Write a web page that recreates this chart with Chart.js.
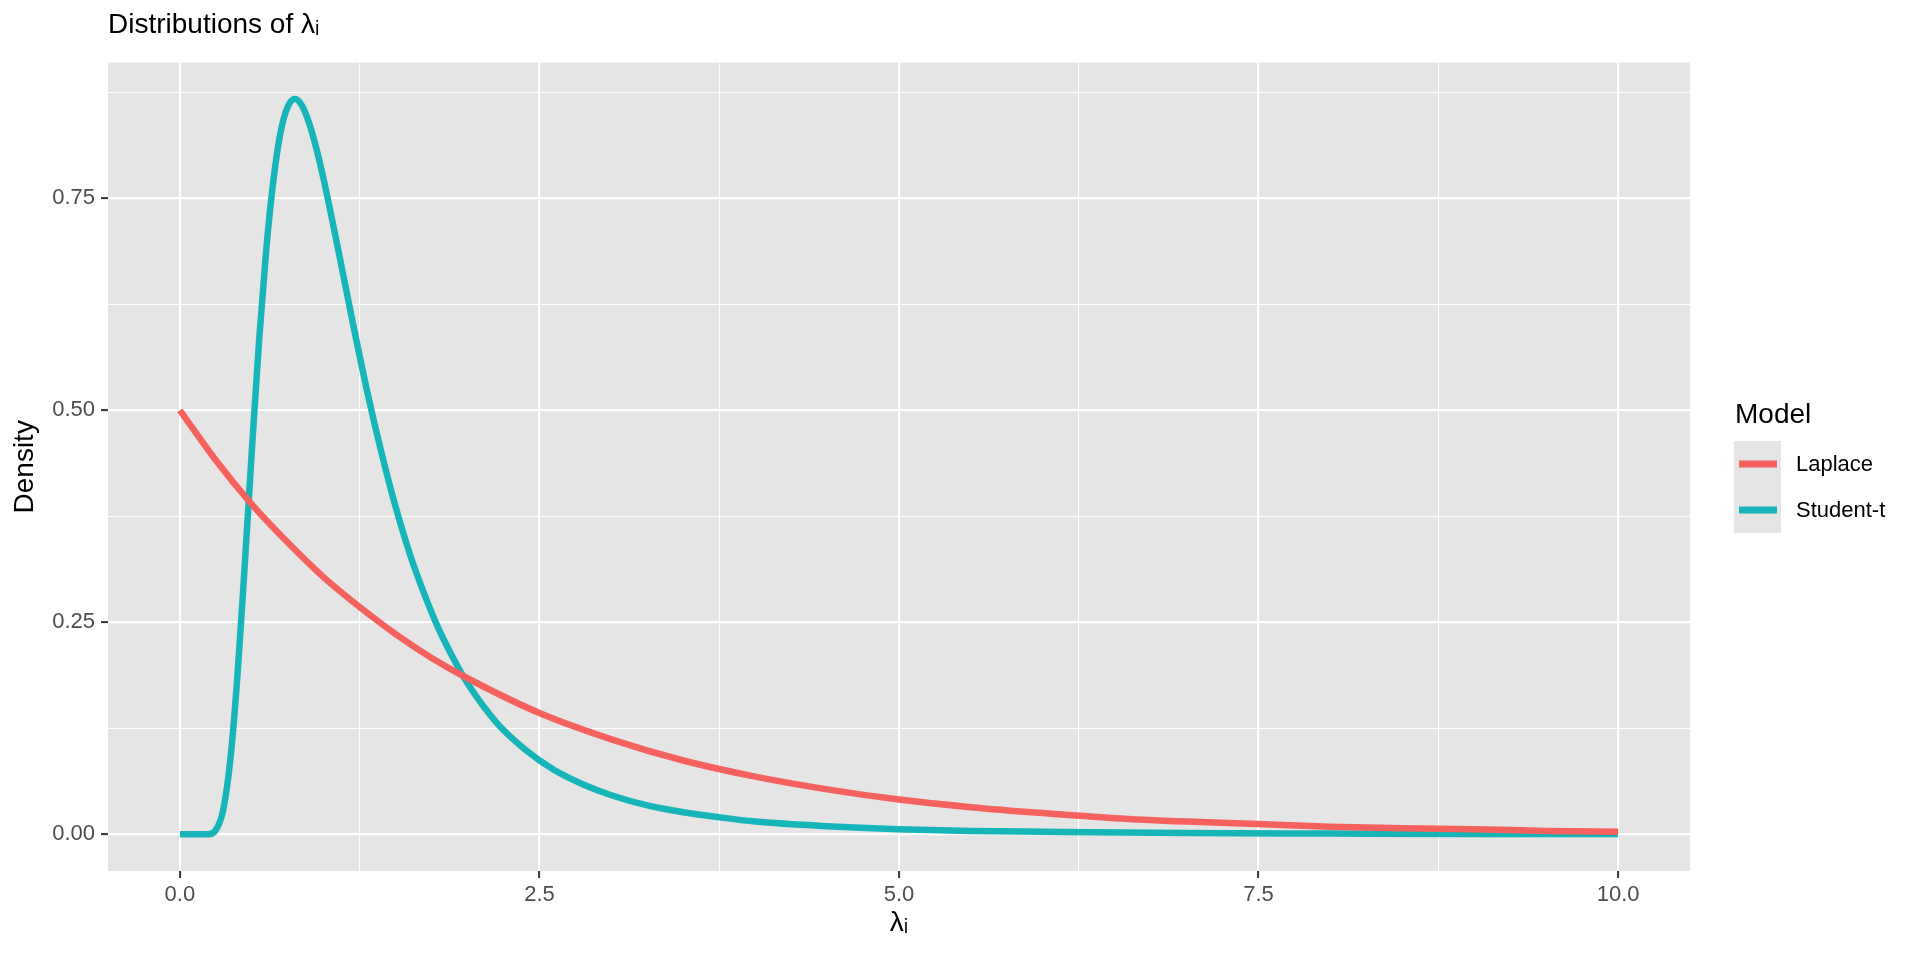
<!DOCTYPE html>
<html>
<head>
<meta charset="UTF-8">
<title>Distributions of λi</title>
<script src="https://cdn.jsdelivr.net/npm/chart.js@4"></script>
<style>
    body { margin: 0; background: #ffffff; }
    #janela { width: 1920px; height: 960px; }
</style>
</head>
<body>

<div id="janela">
    <canvas id="grafico" width="1920" height="960"></canvas>
</div>

<script>
    // valores
    const laplaceX = [0, 0.25, 0.5, 0.75, 1, 1.25, 1.5, 1.75, 2, 2.5, 3, 3.5, 4, 4.5, 5, 5.5, 6, 6.5, 7, 7.5, 8, 8.5, 9, 9.5, 10];
    const laplaceY = [0.500, 0.441, 0.389, 0.344, 0.303, 0.268, 0.236, 0.208, 0.184, 0.143, 0.112, 0.087, 0.068, 0.053, 0.041, 0.032, 0.025, 0.019, 0.015, 0.012, 0.009, 0.007, 0.006, 0.004, 0.003];

    const studentX = [0, 0.1, 0.2, 0.25, 0.3, 0.35, 0.4, 0.45, 0.5, 0.55, 0.6, 0.65, 0.7, 0.75, 0.8, 0.85, 0.9, 0.95, 1, 1.1, 1.2, 1.3, 1.4, 1.5, 1.6, 1.7, 1.8, 1.9, 2, 2.2, 2.4, 2.6, 2.8, 3, 3.25, 3.5, 3.75, 4, 4.5, 5, 5.5, 6, 7, 8, 9, 10];
    const studentY = [0, 0, 0, 0.005, 0.028, 0.087, 0.187, 0.315, 0.452, 0.581, 0.689, 0.771, 0.828, 0.858, 0.867, 0.859, 0.838, 0.808, 0.772, 0.690, 0.605, 0.524, 0.451, 0.386, 0.330, 0.283, 0.242, 0.208, 0.178, 0.132, 0.100, 0.076, 0.059, 0.046, 0.034, 0.026, 0.020, 0.015, 0.0095, 0.006, 0.004, 0.003, 0.0014, 0.0008, 0.0004, 0.0003];

    const seriesNames = ['Laplace', 'Student-t'];
    const seriesColors = ['#F5615C', '#17B5B9'];

    const xMajorTicks = [0, 2.5, 5, 7.5, 10];
    const xMinorTicks = [1.25, 3.75, 6.25, 8.75];
    const xTickLabels = ['0.0', '2.5', '5.0', '7.5', '10.0'];

    const yMajorTicks = [0, 0.25, 0.5, 0.75];
    const yMinorTicks = [0.125, 0.375, 0.625, 0.875];
    const yTickLabels = ['0.00', '0.25', '0.50', '0.75'];

    const titulo = 'Distributions of λᵢ';
    const tituloX = 'λᵢ';
    const tituloY = 'Density';
    const tituloLegenda = 'Model';

    const fonte = '"Liberation Sans", Arial, Helvetica, sans-serif';
    const fundoPainel = '#E5E5E5';

    function pontos(xs, ys) {
        return xs.map((x, i) => ({ x: x, y: ys[i] }));
    }

    function montarTicks(major, minor) {
        return major.concat(minor).sort((a, b) => a - b).map(v => ({ value: v }));
    }

    function rotulo(major, labels) {
        return function (value) {
            const i = major.indexOf(value);
            return i >= 0 ? labels[i] : '';
        };
    }

    // fundo cinza do painel
    const painel = {
        id: 'painel',
        beforeDraw(chart) {
            const a = chart.chartArea;
            const ctx = chart.ctx;
            ctx.save();
            ctx.fillStyle = fundoPainel;
            ctx.fillRect(a.left, a.top, a.right - a.left, a.bottom - a.top);
            ctx.restore();
        }
    };

    // legenda no estilo do ggplot
    const legenda = {
        id: 'legenda',
        afterDraw(chart) {
            const ctx = chart.ctx;
            const x0 = chart.chartArea.right + 44;
            ctx.save();
            ctx.fillStyle = '#000000';
            ctx.font = '28px ' + fonte;
            ctx.textBaseline = 'alphabetic';
            ctx.fillText(tituloLegenda, x0 + 1, 423);
            chart.data.datasets.forEach(function (ds, i) {
                const topo = 441 + i * 46;
                ctx.fillStyle = fundoPainel;
                ctx.fillRect(x0, topo, 47, 46);
                ctx.strokeStyle = ds.borderColor;
                ctx.lineWidth = 7;
                ctx.beginPath();
                ctx.moveTo(x0 + 5, topo + 23);
                ctx.lineTo(x0 + 43, topo + 23);
                ctx.stroke();
                ctx.fillStyle = '#000000';
                ctx.font = '22px ' + fonte;
                ctx.textBaseline = 'middle';
                ctx.fillText(ds.label, x0 + 62, topo + 24);
            });
            ctx.restore();
        }
    };

    const dados = {
        datasets: [
            {
                label: seriesNames[0],
                data: pontos(laplaceX, laplaceY),
                borderColor: seriesColors[0],
                borderWidth: 6.5,
                pointRadius: 0,
                cubicInterpolationMode: 'monotone',
                borderCapStyle: 'butt',
                borderJoinStyle: 'round',
                fill: false
            },
            {
                label: seriesNames[1],
                data: pontos(studentX, studentY),
                borderColor: seriesColors[1],
                borderWidth: 6.5,
                pointRadius: 0,
                cubicInterpolationMode: 'monotone',
                borderCapStyle: 'butt',
                borderJoinStyle: 'round',
                fill: false
            }
        ]
    };

    const config = {
        type: 'line',
        data: dados,
        options: {
            responsive: false,
            animation: false,
            layout: { padding: { top: 0, left: 0, right: 230, bottom: 0 } },
            plugins: {
                legend: { display: false },
                tooltip: { enabled: false },
                title: {
                    display: true,
                    text: titulo,
                    align: 'start',
                    fullSize: false,
                    color: '#000000',
                    font: { family: fonte, size: 28, weight: 'normal' },
                    padding: { top: 8, bottom: 21 }
                }
            },
            scales: {
                x: {
                    type: 'linear',
                    min: -0.5,
                    max: 10.5,
                    afterBuildTicks: s => { s.ticks = montarTicks(xMajorTicks, xMinorTicks); },
                    afterFit: s => { s.height = 89; },
                    border: { display: false },
                    grid: {
                        color: '#FFFFFF',
                        lineWidth: c => xMajorTicks.includes(c.tick && c.tick.value) ? 2.2 : 1.1,
                        tickColor: c => xMajorTicks.includes(c.tick && c.tick.value) ? '#333333' : 'rgba(0,0,0,0)',
                        tickWidth: 2,
                        tickLength: 7
                    },
                    ticks: {
                        callback: rotulo(xMajorTicks, xTickLabels),
                        autoSkip: false,
                        maxRotation: 0,
                        padding: 4,
                        color: '#4D4D4D',
                        font: { family: fonte, size: 22 }
                    },
                    title: {
                        display: true,
                        text: tituloX,
                        color: '#000000',
                        font: { family: fonte, size: 28 },
                        padding: { top: 0, bottom: 20 }
                    }
                },
                y: {
                    type: 'linear',
                    min: -0.0433,
                    max: 0.91,
                    afterBuildTicks: s => { s.ticks = montarTicks(yMajorTicks, yMinorTicks); },
                    afterFit: s => { s.width = 108; },
                    border: { display: false },
                    grid: {
                        color: '#FFFFFF',
                        lineWidth: c => yMajorTicks.includes(c.tick && c.tick.value) ? 2.2 : 1.1,
                        tickColor: c => yMajorTicks.includes(c.tick && c.tick.value) ? '#333333' : 'rgba(0,0,0,0)',
                        tickWidth: 2,
                        tickLength: 7
                    },
                    ticks: {
                        callback: rotulo(yMajorTicks, yTickLabels),
                        autoSkip: false,
                        padding: 6,
                        color: '#4D4D4D',
                        font: { family: fonte, size: 22 }
                    },
                    title: {
                        display: true,
                        text: tituloY,
                        color: '#000000',
                        font: { family: fonte, size: 28 },
                        padding: { top: 8, bottom: 0 }
                    }
                }
            }
        },
        plugins: [painel, legenda]
    };

    new Chart(document.getElementById('grafico'), config);
</script>
</body>
</html>
